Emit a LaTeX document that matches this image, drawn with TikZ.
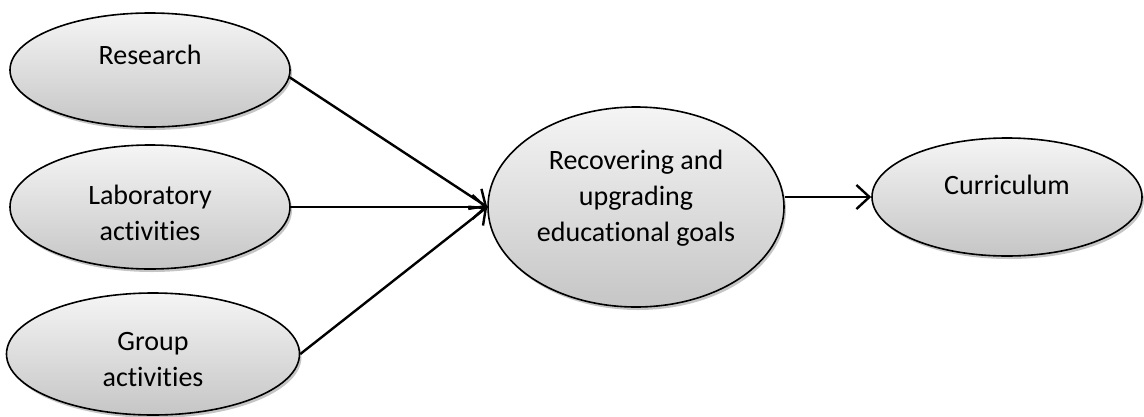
\documentclass[tikz,border=0pt]{standalone}
\usepackage{fontspec}
\setmainfont[Ligatures=NoCommon]{Carlito}
\usetikzlibrary{shapes.geometric,shadows,arrows.meta}

\begin{document}
\begin{tikzpicture}[
        x=1pt, y=-1pt,
        every label/.style={align=center, font=\fontsize{28}{36}\selectfont},
        oval/.style={
            ellipse, draw=black, line width=1.6pt, inner sep=0pt,
            top color=gray!8, bottom color=gray!45,
            drop shadow={shadow xshift=2pt,shadow yshift=-3pt,fill=black!45}
        },
        link/.style={line width=2.4pt,
            -{Straight Barb[length=13pt,width=24pt,line width=2.4pt]}}
    ]
        \useasboundingbox (0,0) rectangle (1144,416);
        \node[oval, minimum width=280, minimum height=114,
            label={[yshift=15pt]center:Research}] (research) at (150,70) {};
        \node[oval, minimum width=280, minimum height=124,
            label={[yshift=-6pt]center:Laboratory\\activities}] (lab) at (150,207) {};
        \node[oval, minimum width=293, minimum height=122,
            label={[yshift=-6pt]center:Group\\activities}] (group) at (153,354) {};
        \node[oval, minimum width=296, minimum height=200,
            label={[yshift=9pt]center:Recovering and\\upgrading\\educational goals}] (goals) at (636,207) {};
        \node[oval, minimum width=270, minimum height=118,
            label={[yshift=12pt]center:Curriculum}] (curriculum) at (1007,197) {};

        \draw[link] (research.-3) -- (goals.west);
        \draw[link] (lab.east) -- (goals.west);
        \draw[link] (group.east) -- (goals.west);
        \draw[link] (goals.east |- curriculum.west) -- (curriculum.west);
    \end{tikzpicture}
\end{document}
